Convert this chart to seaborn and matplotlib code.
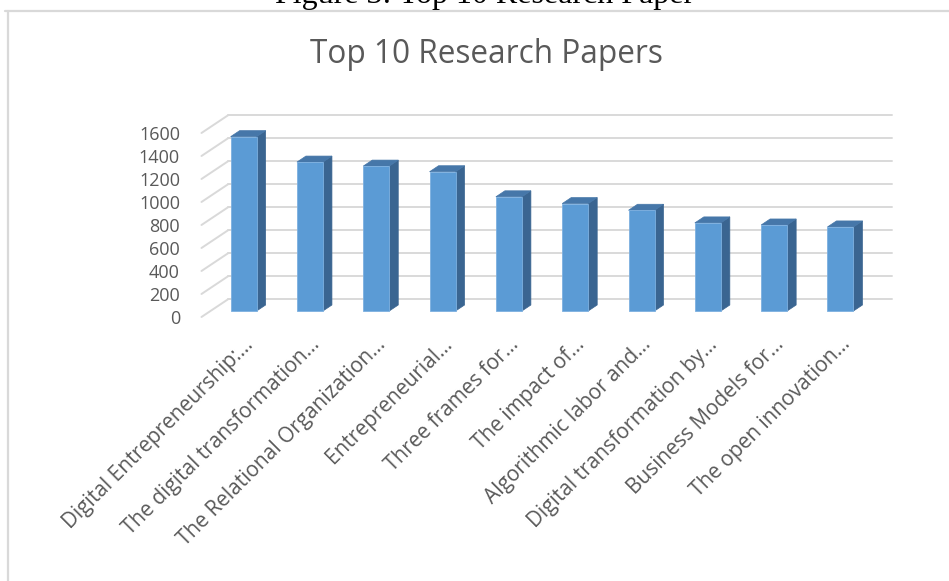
import numpy as np
import pandas as pd
import seaborn as sns
import matplotlib.pyplot as plt
from matplotlib.patches import Polygon
from matplotlib.lines import Line2D
from matplotlib.transforms import ScaledTranslation

# data
papers = [
    "Digital Entrepreneurship:…",
    "The digital transformation…",
    "The Relational Organization…",
    "Entrepreneurial…",
    "Three frames for…",
    "The impact of…",
    "Algorithmic labor and…",
    "Digital transformation by…",
    "Business Models for…",
    "The open innovation…",
]
citations = [1516, 1295, 1260, 1211, 993, 934, 876, 766, 748, 731]
y_ticks = [0, 200, 400, 600, 800, 1000, 1200, 1400, 1600]

df = pd.DataFrame({"paper": papers, "citations": citations})

sns.set_style("white")
plt.rcParams["font.family"] = ["Open Sans", "DejaVu Sans"]

TEXT = "#595959"
GRID = "#D9D9D9"
FRONT = "#5B9BD5"
TOP = "#4677A9"
SIDE = "#3A6591"

fig = plt.figure(figsize=(9.49, 5.81), dpi=100)
# front plane of the 3d box
ax = fig.add_axes([0.2123, 0.4544, 0.6988, 0.3167])
ax.patch.set_alpha(0)

# depth of the fake 3d box, in data units
DX, DY = 0.407, 156.5

sns.barplot(data=df, x="paper", y="citations", color=FRONT, saturation=1,
            width=0.392, ax=ax, zorder=4, edgecolor="#7DB0E0", linewidth=0.6)

ax.set_xlim(-0.5, len(papers) - 0.5)
ax.set_ylim(0, 1600)

# back wall gridlines + left diagonals
for v in y_ticks:
    ax.plot([-0.5 + DX, len(papers) - 0.5 + DX], [v + DY, v + DY],
            color=GRID, lw=1.4, zorder=1, clip_on=False)
    ax.plot([-0.5, -0.5 + DX], [v, v + DY], color=GRID, lw=1.4,
            zorder=1, clip_on=False)

# push bars back a third of the depth and add side/top faces
dx, dy = DX / 3, DY / 3
for p in ax.patches[:len(papers)]:
    p.set_x(p.get_x() + dx)
    p.set_y(dy)
    p.set_clip_on(False)
    x0, w, h = p.get_x(), p.get_width(), p.get_height()
    x1, top = x0 + w, dy + h
    side = Polygon([(x1, dy), (x1 + dx, 2 * dy), (x1 + dx, top + dy), (x1, top)],
                   closed=True, facecolor=SIDE, edgecolor=SIDE, lw=0.5,
                   zorder=3, clip_on=False)
    lid = Polygon([(x0, top), (x1, top), (x1 + dx, top + dy), (x0 + dx, top + dy)],
                  closed=True, facecolor=TOP, edgecolor=TOP, lw=0.5,
                  zorder=3, clip_on=False)
    ax.add_patch(side)
    ax.add_patch(lid)

for s in ax.spines.values():
    s.set_visible(False)

ax.set_xlabel("")
ax.set_ylabel("")
ax.set_yticks(y_ticks)
ax.set_yticklabels([str(v) for v in y_ticks])
ax.tick_params(axis="y", length=0, pad=15.5, labelsize=13, labelcolor=TEXT)
ax.tick_params(axis="x", length=0, pad=0, labelsize=15, labelcolor=TEXT)
ax.set_xticks(range(len(papers)))
ax.set_xticklabels(papers, rotation=45, ha="right", rotation_mode="anchor")
shift = ScaledTranslation(8 / 100, -17 / 100, fig.dpi_scale_trans)
for lab in ax.get_xticklabels():
    lab.set_transform(lab.get_transform() + shift)

# chart title and the cut-off caption above the frame
fig.text(486 / 949, 1 - 63 / 581, "Top 10 Research Papers", ha="center",
         va="baseline", fontsize=22.7, color=TEXT)
fig.text(485 / 949, 1 - 3 / 581, "Figure 3: Top 10 Research Paper", ha="center",
         va="baseline", fontsize=23, color="black",
         family=["Liberation Serif", "DejaVu Serif"])

# light frame of the chart area
fig.add_artist(Line2D([5 / 949, 1], [1 - 10.5 / 581, 1 - 10.5 / 581],
                      transform=fig.transFigure, color=GRID, lw=1.6))
fig.add_artist(Line2D([8 / 949, 8 / 949], [0, 1 - 10.5 / 581],
                      transform=fig.transFigure, color=GRID, lw=1.6))

fig.savefig("out.png", dpi=100)
